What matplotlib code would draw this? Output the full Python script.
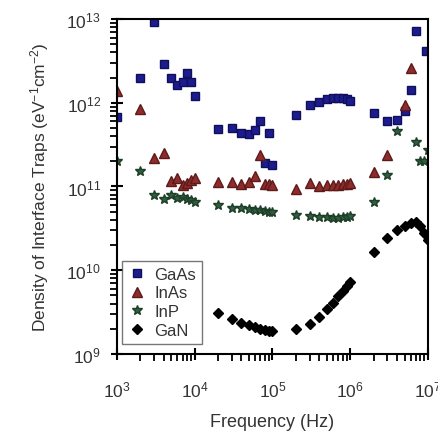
import numpy as np
import matplotlib
matplotlib.use("Agg")
import matplotlib.pyplot as plt
from matplotlib.ticker import LogLocator, NullFormatter

plt.rcParams['font.family'] = ['Liberation Sans', 'DejaVu Sans']
plt.rcParams['mathtext.fontset'] = 'custom'
plt.rcParams['mathtext.rm'] = 'Liberation Sans'
plt.rcParams['mathtext.it'] = 'Liberation Sans:italic'

# frequency grids (Hz)
f_low = [1e3, 2e3, 3e3, 4e3, 5e3, 6e3, 7e3, 8e3, 9e3, 1e4]
f_mid = [2e4, 3e4, 4e4, 5e4, 6e4, 7e4, 8e4, 9e4, 1e5]
f_high = [2e5, 3e5, 4e5, 5e5, 6e5, 7e5, 8e5, 9e5, 1e6]
f_top = [2e6, 3e6, 4e6, 5e6, 6e6, 7e6, 8e6, 9e6, 1e7]

# GaAs
gaas_f = [1e3, 2e3, 3e3, 4e3, 5e3, 6e3, 7e3, 8e3, 9e3, 1e4,
          2e4, 3e4, 4e4, 5e4, 6e4, 7e4, 8e4, 9e4, 1e5,
          2e5, 3e5, 4e5, 5e5, 6e5, 7e5, 8e5, 9e5, 1e6,
          2e6, 3e6, 4e6, 5e6, 6e6, 7e6, 9.5e6]
gaas_d = [6.7e11, 2.0e12, 9.3e12, 2.9e12, 1.95e12, 1.63e12, 1.78e12, 2.27e12, 1.75e12, 1.21e12,
          4.9e11, 4.95e11, 4.3e11, 4.2e11, 4.7e11, 6.0e11, 1.9e11, 4.4e11, 1.8e11,
          7.2e11, 9.5e11, 1.01e12, 1.1e12, 1.14e12, 1.15e12, 1.13e12, 1.1e12, 1.06e12,
          7.5e11, 6.1e11, 6.2e11, 8.0e11, 1.42e12, 7.2e12, 4.2e12]

# InAs
inas_f = [1e3, 2e3, 3e3, 4e3, 5e3, 6e3, 7e3, 8e3, 9e3, 1e4,
          2e4, 3e4, 4e4, 5e4, 6e4, 7e4, 8e4, 9e4, 1e5,
          2e5, 3e5, 4e5, 5e5, 6e5, 7e5, 8e5, 9e5, 1e6,
          2e6, 3e6, 5e6, 6e6]
inas_d = [1.4e12, 8.4e11, 2.2e11, 2.5e11, 1.15e11, 1.25e11, 1.05e11, 1.1e11, 1.2e11, 1.25e11,
          1.14e11, 1.14e11, 1.08e11, 1.12e11, 1.32e11, 2.4e11, 1.06e11, 1.06e11, 1.05e11,
          9.3e10, 1.1e11, 1.02e11, 1.03e11, 1.04e11, 1.05e11, 1.06e11, 1.08e11, 1.1e11,
          1.5e11, 2.4e11, 9.4e11, 2.6e12]

# InP
inp_f = f_low + f_mid + f_high + [2e6, 3e6, 4e6, 7e6, 8e6, 9e6, 1e7]
inp_d = [2.0e11, 1.55e11, 7.9e10, 7.0e10, 8.0e10, 7.2e10, 7.4e10, 7.0e10, 6.9e10, 6.6e10,
         6.0e10, 5.6e10, 5.5e10, 5.4e10, 5.3e10, 5.2e10, 5.1e10, 5.0e10, 5.0e10,
         4.6e10, 4.5e10, 4.3e10, 4.3e10, 4.2e10, 4.2e10, 4.3e10, 4.3e10, 4.4e10,
         6.6e10, 1.38e11, 4.6e11, 3.4e11, 2.0e11, 2.0e11, 2.7e11]

# GaN
gan_f = f_mid + f_high + f_top
gan_d = [3.1e9, 2.6e9, 2.35e9, 2.2e9, 2.1e9, 2.0e9, 1.95e9, 1.9e9, 1.88e9,
         2.0e9, 2.3e9, 2.8e9, 3.4e9, 4.1e9, 4.9e9, 5.7e9, 6.5e9, 7.3e9,
         1.64e10, 2.4e10, 3.0e10, 3.4e10, 3.7e10, 3.75e10, 3.4e10, 2.8e10, 2.3e10]

fig = plt.figure(figsize=(4.38, 4.35), dpi=100)
ax = fig.add_axes([0.267, 0.184, 0.71, 0.77])

ax.plot(gaas_f, gaas_d, 's', color='#1c1c8e', mec='#10105a', ms=5.2, label='GaAs')
ax.plot(inas_f, inas_d, '^', color='#8e2c2c', mec='#5e1a1a', ms=6.5, label='InAs')
ax.plot(inp_f, inp_d, '*', color='#2f5e40', mec='#1e3e28', ms=7.5, label='InP')
ax.plot(gan_f, gan_d, 'D', color='black', ms=5.2, label='GaN')

ax.set_xscale('log')
ax.set_yscale('log')
ax.set_xlim(1e3, 1e7)
ax.set_ylim(1e9, 1e13)

ax.xaxis.set_major_locator(LogLocator(base=10, numticks=10))
ax.yaxis.set_major_locator(LogLocator(base=10, numticks=10))
ax.xaxis.set_minor_locator(LogLocator(base=10, subs=np.arange(2, 10), numticks=20))
ax.yaxis.set_minor_locator(LogLocator(base=10, subs=np.arange(2, 10), numticks=20))
ax.xaxis.set_minor_formatter(NullFormatter())
ax.yaxis.set_minor_formatter(NullFormatter())

for s in ax.spines.values():
    s.set_linewidth(1.5)
ax.tick_params(which='major', direction='inout', length=9, width=1.5,
               labelsize=12.5, labelcolor='#333333', pad=7)
ax.tick_params(which='minor', direction='out', length=5, width=1.3)
ax.tick_params(axis='x', which='major', pad=14)

ax.set_xlabel('Frequency (Hz)', fontsize=13, color='#333333', labelpad=10)
ax.set_ylabel('Density of Interface Traps (eV$^{-1}$cm$^{-2}$)', fontsize=12.5,
              color='#333333', labelpad=11)

leg = ax.legend(loc='lower left', bbox_to_anchor=(0.0, 0.015), fontsize=12,
                fancybox=False, edgecolor='#555555', handletextpad=0.5,
                borderpad=0.35, labelspacing=0.23, handlelength=1.1,
                borderaxespad=0.3, labelcolor='#333333')
leg.get_frame().set_linewidth(1.0)

fig.savefig('out.png', dpi=100)
